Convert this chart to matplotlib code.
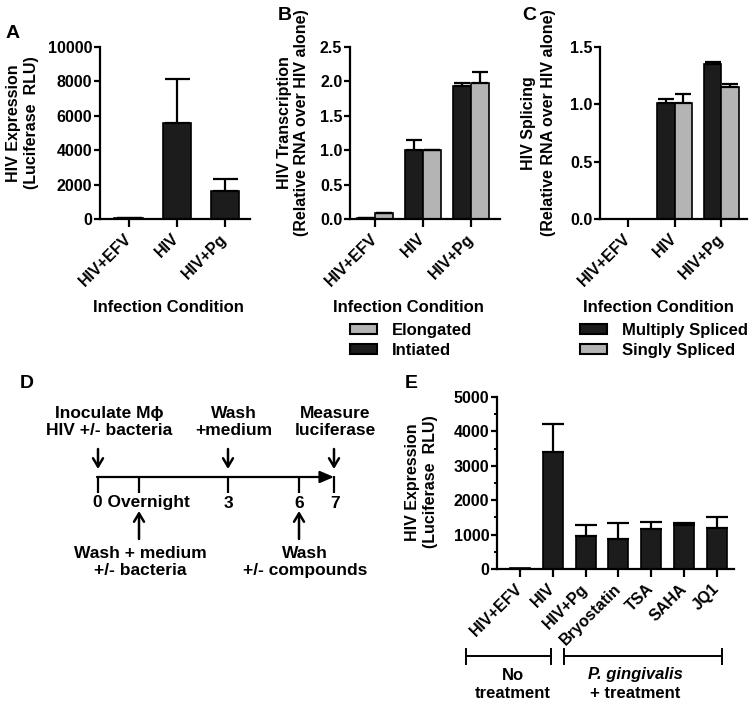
import matplotlib
matplotlib.use('Agg')
import matplotlib.pyplot as plt
from matplotlib.patches import Patch
from matplotlib.ticker import MultipleLocator, FormatStrFormatter
import numpy as np

plt.rcParams['font.family'] = ['Liberation Sans', 'DejaVu Sans']
plt.rcParams['font.weight'] = 'bold'
plt.rcParams['axes.labelweight'] = 'bold'
plt.rcParams['font.size'] = 12
plt.rcParams['axes.linewidth'] = 1.6

# ---------------- data ----------------
cond_abc = ['HIV+EFV', 'HIV', 'HIV+Pg']

a_vals = [30, 5600, 1650]
a_err = [0, 2550, 650]

b_init = [0.01, 1.00, 1.93]
b_init_err = [0.0, 0.15, 0.05]
b_elong = [0.08, 1.00, 1.97]
b_elong_err = [0.01, 0.01, 0.16]

c_multi = [0.0, 1.01, 1.35]
c_multi_err = [0.0, 0.04, 0.02]
c_single = [0.0, 1.01, 1.15]
c_single_err = [0.0, 0.08, 0.03]

e_labels = ['HIV+EFV', 'HIV', 'HIV+Pg', 'Bryostatin', 'TSA', 'SAHA', 'JQ1']
e_vals = [15, 3400, 970, 880, 1160, 1290, 1185]
e_err = [0, 820, 310, 450, 210, 60, 340]

BLACK = '#1c1c1c'
GRAY = '#b4b4b4'

W, H = 754, 706
fig = plt.figure(figsize=(W / 100, H / 100), dpi=100)

# overlay in pixel coordinates (panel D, letters, brackets, axis titles)
ov = fig.add_axes([0, 0, 1, 1], zorder=-1)
ov.set_xlim(0, W)
ov.set_ylim(H, 0)
ov.axis('off')


def axes_px(l, t, r, b):
    return fig.add_axes([l / W, 1 - b / H, (r - l) / W, (b - t) / H])


def style(ax):
    for s in ['top', 'right']:
        ax.spines[s].set_visible(False)
    ax.tick_params(axis='y', width=1.6, length=4, labelsize=11.5, pad=1.5)
    ax.tick_params(axis='x', width=1.6, length=5.5, labelsize=11.5, pad=7)
    for lab in ax.get_xticklabels() + ax.get_yticklabels():
        lab.set_fontweight('bold')
    for lab in ax.get_xticklabels():
        lab.set_rotation(45)
        lab.set_ha('right')
        lab.set_va('center')
        lab.set_rotation_mode('anchor')


def ytitle(lines, xs, yc, size=11.5):
    for t, xp in zip(lines, xs):
        ov.text(xp, yc, t, rotation=90, fontsize=size, fontweight='bold',
                ha='center', va='center')


ekw = dict(ecolor='black', elinewidth=1.6, capthick=1.6)

# ---------------- A ----------------
axA = axes_px(100, 47, 250, 219)
x = np.arange(len(cond_abc))
axA.bar(x, a_vals, width=0.6, color=BLACK, edgecolor='black', linewidth=1.2)
axA.errorbar(x, a_vals, yerr=[np.zeros(3), a_err], fmt='none', capsize=9, **ekw)
axA.set_xlim(-0.6, 2.52)
axA.set_ylim(0, 10000)
axA.set_yticks(np.arange(0, 10001, 2000))
axA.set_xticks(x)
axA.set_xticklabels(cond_abc)
style(axA)
ytitle(['HIV Expression', '(Luciferase  RLU)'], [14, 31.5], 123)
axA.set_xlabel('Infection Condition', fontsize=12, fontweight='bold', va='center')
axA.xaxis.set_label_coords((168 - 100) / 150, (219 - 307) / 172)

# ---------------- B ----------------
axB = axes_px(350, 47, 500, 219)
w = 0.37
axB.bar(x - w / 2, b_init, width=w, color=BLACK, edgecolor='black', linewidth=1.2)
axB.bar(x + w / 2, b_elong, width=w, color=GRAY, edgecolor='black', linewidth=1.2)
axB.errorbar(x - w / 2, b_init, yerr=[np.zeros(3), b_init_err], fmt='none', capsize=6, **ekw)
axB.errorbar(x + w / 2, b_elong, yerr=[np.zeros(3), b_elong_err], fmt='none', capsize=6, **ekw)
axB.set_xlim(-0.52, 2.6)
axB.set_ylim(0, 2.5)
axB.set_yticks(np.arange(0, 2.51, 0.5))
axB.yaxis.set_major_formatter(FormatStrFormatter('%.1f'))
axB.set_xticks(x)
axB.set_xticklabels(cond_abc)
style(axB)
ytitle(['HIV Transcription', '(Relative RNA over HIV alone)'], [285, 301.5], 123)
axB.set_xlabel('Infection Condition', fontsize=12, fontweight='bold', va='center')
axB.xaxis.set_label_coords((408 - 350) / 150, (219 - 307) / 172)
axB.legend(handles=[Patch(facecolor=GRAY, edgecolor='black', linewidth=1.5, label='Elongated'),
                    Patch(facecolor=BLACK, edgecolor='black', linewidth=1.5, label='Intiated')],
           loc='upper left', bbox_to_anchor=(350 / W, 1 - 323 / H), bbox_transform=fig.transFigure,
           frameon=False, borderpad=0, borderaxespad=0, handlelength=1.6, handleheight=0.6,
           handletextpad=0.9, labelspacing=0.3, prop={'size': 12, 'weight': 'bold'})

# ---------------- C ----------------
axC = axes_px(600, 47, 747, 219)
axC.bar(x - w / 2, c_multi, width=w, color=BLACK, edgecolor='black', linewidth=1.2)
axC.bar(x + w / 2, c_single, width=w, color=GRAY, edgecolor='black', linewidth=1.2)
axC.errorbar(x[1:] - w / 2, c_multi[1:], yerr=[np.zeros(2), c_multi_err[1:]], fmt='none', capsize=6, **ekw)
axC.errorbar(x[1:] + w / 2, c_single[1:], yerr=[np.zeros(2), c_single_err[1:]], fmt='none', capsize=6, **ekw)
axC.set_xlim(-0.6, 2.55)
axC.set_ylim(0, 1.5)
axC.set_yticks(np.arange(0, 1.51, 0.5))
axC.yaxis.set_major_formatter(FormatStrFormatter('%.1f'))
axC.set_xticks(x)
axC.set_xticklabels(cond_abc)
style(axC)
ytitle(['HIV Splicing', '(Relative RNA over HIV alone)'], [528, 549], 123)
axC.set_xlabel('Infection Condition', fontsize=12, fontweight='bold', va='center')
axC.xaxis.set_label_coords((658 - 600) / 147, (219 - 307) / 172)
axC.legend(handles=[Patch(facecolor=BLACK, edgecolor='black', linewidth=1.5, label='Multiply Spliced'),
                    Patch(facecolor=GRAY, edgecolor='black', linewidth=1.5, label='Singly Spliced')],
           loc='upper left', bbox_to_anchor=(580 / W, 1 - 323 / H), bbox_transform=fig.transFigure,
           frameon=False, borderpad=0, borderaxespad=0, handlelength=1.6, handleheight=0.6,
           handletextpad=0.9, labelspacing=0.3, prop={'size': 12, 'weight': 'bold'})

# ---------------- E ----------------
axE = axes_px(497, 397, 734, 569)
xe = np.arange(len(e_labels))
axE.bar(xe, e_vals, width=0.61, color=BLACK, edgecolor='black', linewidth=1.2)
axE.errorbar(xe[1:], e_vals[1:], yerr=[np.zeros(len(xe) - 1), e_err[1:]], fmt='none', capsize=8, **ekw)
axE.set_xlim(-0.7, 6.52)
axE.set_ylim(0, 5000)
axE.set_yticks(np.arange(0, 5001, 1000))
axE.yaxis.set_minor_locator(MultipleLocator(500))
axE.set_xticks(xe)
axE.set_xticklabels(e_labels)
style(axE)
axE.tick_params(axis='y', which='minor', width=1.4, length=2.5)
ytitle(['HIV Expression', '(Luciferase  RLU)'], [412.5, 430.5], 482)

# ---------------- panel letters ----------------
for lab, (px, py) in {'A': (13, 33), 'B': (285, 15), 'C': (529, 16),
                      'D': (27, 384), 'E': (411, 384)}.items():
    ov.text(px, py, lab, fontsize=14, fontweight='bold', ha='center', va='center')

# ---------------- panel D timeline ----------------
ov.annotate('', xy=(334, 477), xytext=(97, 477),
            arrowprops=dict(arrowstyle='-|>,head_length=0.7,head_width=0.3', lw=1.6,
                            color='black', shrinkA=0, shrinkB=0))
for tx in [98, 139, 228, 299, 334]:
    ov.plot([tx, tx], [476, 493], color='black', lw=1.6, solid_capstyle='butt')
ov.text(93, 503, '0 Overnight', fontsize=12.5, fontweight='bold', ha='left', va='center')
for lab, tx in [('3', 228), ('6', 299), ('7', 335)]:
    ov.text(tx, 503, lab, fontsize=12.5, fontweight='bold', ha='center', va='center')

arrow_kw = dict(arrowstyle='->,head_length=0.5,head_width=0.3', lw=1.8, color='black',
                shrinkA=0, shrinkB=0)
for tx in [98, 228, 334]:
    ov.annotate('', xy=(tx, 469), xytext=(tx, 449), arrowprops=arrow_kw)
for tx in [139, 299]:
    ov.annotate('', xy=(tx, 511), xytext=(tx, 539), arrowprops=arrow_kw)

dtext = dict(fontsize=12.5, fontweight='bold', ha='center', va='center', linespacing=1.1)
ov.text(109, 422, 'Inoculate Mϕ\nHIV +/- bacteria', **dtext)
ov.text(234, 422, 'Wash\n+medium', **dtext)
ov.text(335, 422, 'Measure\nluciferase', **dtext)
ov.text(140, 562, 'Wash + medium\n+/- bacteria', **dtext)
ov.text(305, 562, 'Wash\n+/- compounds', **dtext)

# ---------------- brackets under E ----------------
for x0, x1 in [(466, 551), (564, 722)]:
    ov.plot([x0, x1], [656, 656], color='black', lw=1.4)
    ov.plot([x0, x0], [649, 664], color='black', lw=1.4)
    ov.plot([x1, x1], [649, 664], color='black', lw=1.4)
ov.text(513, 675, 'No', fontsize=12, fontweight='bold', ha='center', va='center')
ov.text(513, 693, 'treatment', fontsize=12, fontweight='bold', ha='center', va='center')
ov.text(635, 675, 'P. gingivalis', fontsize=12, fontweight='bold', ha='center', va='center', style='italic')
ov.text(635, 693, '+ treatment', fontsize=12, fontweight='bold', ha='center', va='center')

fig.savefig('out.png', dpi=100)
